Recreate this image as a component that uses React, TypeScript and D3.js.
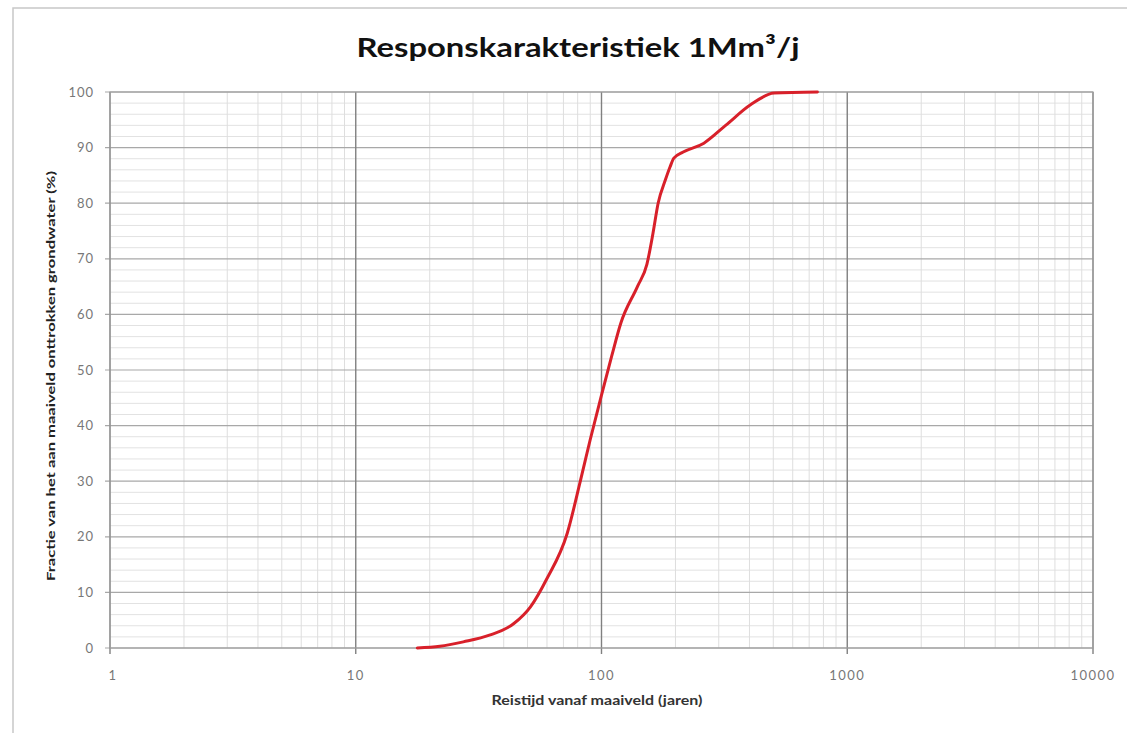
import React from "react";
import * as d3 from "d3";

const travelTimes = [17.8, 22, 27.4, 35, 44, 51.4, 60, 72.5, 82, 90, 100, 110, 120, 140, 153, 162, 170, 182, 190, 197, 215, 261, 320, 404, 504, 756];
const fractions = [0, 0.3, 1.1, 2.3, 4.4, 7.4, 12.5, 20.6, 30, 37.5, 45.5, 52.5, 58.5, 65, 69, 74.6, 80, 84.2, 86.5, 88.1, 89.2, 90.8, 94, 97.7, 99.8, 100];
const xTickValues = [1, 10, 100, 1000, 10000];
const xTickLabels = ["1", "10", "100", "1000", "10000"];
const yTickValues = [0, 10, 20, 30, 40, 50, 60, 70, 80, 90, 100];
const titleText = "Responskarakteristiek 1Mm³/j";
const xTitle = "Reistijd vanaf maaiveld (jaren)";
const yTitle = "Fractie van het aan maaiveld onttrokken grondwater (%)";

export default function App() {
  const W = 1127, H = 733;
  const L = 110, R = 1093, T = 92, B = 648;
  const x = d3.scaleLog().domain([1, 10000]).range([L, R]);
  const y = d3.scaleLinear().domain([0, 100]).range([B, T]);

  const minorX: number[] = [];
  for (let d = 1; d < 10000; d *= 10) for (let k = 2; k <= 9; k++) minorX.push(d * k);
  const minorY: number[] = d3.range(0, 101, 2).filter((v) => v % 10 !== 0);

  const data = travelTimes.map((t, i) => [t, fractions[i]] as [number, number]);
  const line = d3.line<[number, number]>().x((d) => x(d[0])).y((d) => y(d[1])).curve(d3.curveMonotoneX);

  const font = "Lato, 'Open Sans', sans-serif";
  return (
    <svg width={W} height={H} style={{ position: "absolute", left: 0, top: 0, background: "#fff" }}>
      <rect x={0} y={0} width={W} height={H} fill="#fff" />
      <rect x={13} y={8} width={W + 20} height={H + 20} fill="none" stroke="#c8c8c8" strokeWidth={1.5} />
      <text x={578} y={57} textAnchor="middle" fontFamily={font} fontWeight="bold" fontSize={27} fill="#111" textLength={443} lengthAdjust="spacingAndGlyphs">{titleText}</text>
      {minorY.map((v) => (
        <line key={"my" + v} x1={L} x2={R} y1={y(v)} y2={y(v)} stroke="#e2e2e2" strokeWidth={1} />
      ))}
      {minorX.map((v) => (
        <line key={"mx" + v} x1={x(v)} x2={x(v)} y1={T} y2={B} stroke="#dedede" strokeWidth={1} />
      ))}
      {yTickValues.map((v) => (
        <line key={"gy" + v} x1={L - 5} x2={R} y1={y(v)} y2={y(v)} stroke="#a8a8a8" strokeWidth={1.2} />
      ))}
      {xTickValues.map((v) => (
        <line key={"gx" + v} x1={x(v)} x2={x(v)} y1={T} y2={B + 6} stroke="#808080" strokeWidth={1.4} />
      ))}
      <rect x={L} y={T} width={R - L} height={B - T} fill="none" stroke="#a0a0a0" strokeWidth={1.2} />
      {yTickValues.map((v) => (
        <text key={"ty" + v} x={94} y={y(v) + 4.5} textAnchor="end" fontFamily={font} fontSize={13} letterSpacing={1} fill="#777">{v}</text>
      ))}
      {xTickValues.map((v, i) => (
        <text key={"tx" + v} x={x(v) + (i === 0 ? 3 : 0)} y={680} textAnchor="middle" fontFamily={font} fontSize={13} letterSpacing={1.5} fill="#777">{xTickLabels[i]}</text>
      ))}
      <text x={597} y={705} textAnchor="middle" fontFamily={font} fontWeight="bold" fontSize={13} fill="#333" textLength={211} lengthAdjust="spacingAndGlyphs">{xTitle}</text>
      <text transform={`translate(55,376) rotate(-90)`} textAnchor="middle" fontFamily={font} fontWeight="bold" fontSize={12} fill="#222" textLength={410} lengthAdjust="spacingAndGlyphs">{yTitle}</text>
      <path d={line(data) || ""} fill="none" stroke="#d8202a" strokeWidth={3} strokeLinejoin="round" strokeLinecap="round" />
    </svg>
  );
}
